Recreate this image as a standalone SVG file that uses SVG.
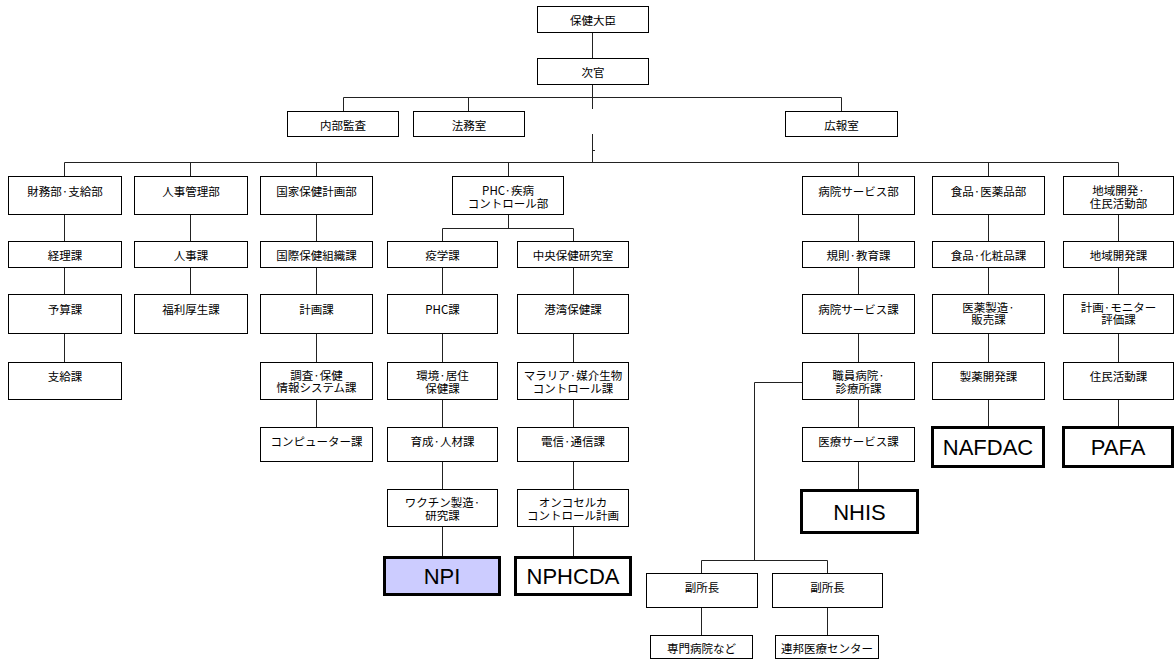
<svg xmlns="http://www.w3.org/2000/svg" width="1175" height="660" viewBox="0 0 1175 660">
<style>
.b{fill:#fff;stroke:#000;stroke-width:1}
.t{fill:#fff;stroke:#000;stroke-width:3}
.n{fill:#ccccff;stroke:#000;stroke-width:3}
.j{font-family:"Noto Sans CJK JP","Noto Sans CJK SC",sans-serif;font-size:11.5px;text-anchor:middle;dominant-baseline:central;fill:#000}
.e{font-family:"Liberation Sans",Arial,sans-serif;font-size:22px;text-anchor:middle;dominant-baseline:central;fill:#000}
.c{fill:none;stroke:#222;stroke-width:1}
</style>
<rect width="1175" height="660" fill="#fff"/>
<g id="connectors" class="c">
<path d="M592.5 32.5V58.5M592.5 84.5V109M343.5 97.5H841.5M343.5 97.5V111.5M468.5 97.5V111.5M841.5 97.5V111.5M592.5 134V162.5M592.5 150.5H595"/>
<path d="M64.5 162.5H1118.5M64.5 162.5V176.5M190.5 162.5V176.5M316.5 162.5V176.5M508.5 162.5V176.5M858.5 162.5V176.5M988.5 162.5V176.5M1118.5 162.5V176.5"/>
<path d="M64.5 214.5V241.5M64.5 267.5V294.5M64.5 333.5V362.5"/>
<path d="M190.5 214.5V241.5M190.5 267.5V294.5"/>
<path d="M316.5 214.5V241.5M316.5 267.5V294.5M316.5 333.5V362.5M316.5 399.5V427.5"/>
<path d="M508.5 214.5V228.5M442.5 228.5H573.5M442.5 228.5V241.5M573.5 228.5V241.5"/>
<path d="M442.5 267.5V294.5M442.5 333.5V362.5M442.5 399.5V427.5M442.5 461.5V489.5M442.5 526.5V557.5"/>
<path d="M573.5 267.5V294.5M573.5 333.5V362.5M573.5 399.5V427.5M573.5 461.5V489.5M573.5 526.5V557.5"/>
<path d="M858.5 214.5V241.5M858.5 267.5V294.5M858.5 333.5V362.5M858.5 399.5V427.5M858.5 461.5V490.5"/>
<path d="M802.5 382.5H754.5V560.5M701.5 560.5H827.5M701.5 560.5V573.5M827.5 560.5V573.5M701.5 607.5V635.5M827.5 607.5V635.5"/>
<path d="M988.5 214.5V241.5M988.5 267.5V294.5M988.5 333.5V362.5M988.5 399.5V427.5"/>
<path d="M1118.5 214.5V241.5M1118.5 267.5V294.5M1118.5 333.5V362.5M1118.5 399.5V427.5"/>
</g>
<g id="minister"><rect class="b" x="537.5" y="6.5" width="111" height="26"/><text class="j" x="593" y="20">保健大臣</text></g>
<g id="vice"><rect class="b" x="537.5" y="58.5" width="111" height="26"/><text class="j" x="593" y="72">次官</text></g>
<g id="audit"><rect class="b" x="287.5" y="111.5" width="111" height="25"/><text class="j" x="343" y="124.5">内部監査</text></g>
<g id="legal"><rect class="b" x="413.5" y="111.5" width="111" height="25"/><text class="j" x="469" y="124.5">法務室</text></g>
<g id="pr"><rect class="b" x="785.5" y="111.5" width="112" height="25"/><text class="j" x="841.5" y="124.5">広報室</text></g>

<g id="finance"><rect class="b" x="8.5" y="176.5" width="113" height="38"/><text class="j" x="65" y="190.5">財務部·支給部</text></g>
<g id="accounts"><rect class="b" x="8.5" y="241.5" width="113" height="26"/><text class="j" x="65" y="255">経理課</text></g>
<g id="budget"><rect class="b" x="8.5" y="294.5" width="113" height="39"/><text class="j" x="65" y="308.5">予算課</text></g>
<g id="payment"><rect class="b" x="8.5" y="362.5" width="113" height="37"/><text class="j" x="65" y="376">支給課</text></g>

<g id="hr"><rect class="b" x="134.5" y="176.5" width="113" height="38"/><text class="j" x="191" y="190.5">人事管理部</text></g>
<g id="personnel"><rect class="b" x="134.5" y="241.5" width="113" height="26"/><text class="j" x="191" y="255">人事課</text></g>
<g id="welfare"><rect class="b" x="134.5" y="294.5" width="113" height="39"/><text class="j" x="191" y="308.5">福利厚生課</text></g>

<g id="planning-dept"><rect class="b" x="260.5" y="176.5" width="112" height="38"/><text class="j" x="316.5" y="190.5">国家保健計画部</text></g>
<g id="intl"><rect class="b" x="260.5" y="241.5" width="112" height="26"/><text class="j" x="316.5" y="255">国際保健組織課</text></g>
<g id="plan"><rect class="b" x="260.5" y="294.5" width="112" height="39"/><text class="j" x="316.5" y="308.5">計画課</text></g>
<g id="survey"><rect class="b" x="260.5" y="362.5" width="112" height="37"/><text class="j" x="316.5" y="374.5">調査·保健<tspan x="316.5" dy="12.5">情報システム課</tspan></text></g>
<g id="computer"><rect class="b" x="260.5" y="427.5" width="112" height="34"/><text class="j" x="316.5" y="440.5">コンピューター課</text></g>

<g id="phc-dept"><rect class="b" x="452.5" y="176.5" width="111" height="38"/><text class="j" x="508" y="190">PHC·疾病<tspan x="508" dy="12.5">コントロール部</tspan></text></g>
<g id="epi"><rect class="b" x="387.5" y="241.5" width="110" height="26"/><text class="j" x="442.5" y="255">疫学課</text></g>
<g id="phc"><rect class="b" x="387.5" y="294.5" width="110" height="39"/><text class="j" x="442.5" y="308.5">PHC課</text></g>
<g id="env"><rect class="b" x="387.5" y="362.5" width="110" height="37"/><text class="j" x="442.5" y="375">環境·居住<tspan x="442.5" dy="12.5">保健課</tspan></text></g>
<g id="training"><rect class="b" x="387.5" y="427.5" width="110" height="34"/><text class="j" x="442.5" y="440.5">育成·人材課</text></g>
<g id="vaccine"><rect class="b" x="387.5" y="489.5" width="110" height="37"/><text class="j" x="442.5" y="502">ワクチン製造·<tspan x="442.5" dy="12.5">研究課</tspan></text></g>
<g id="npi"><rect class="n" x="384.5" y="557.5" width="115" height="37"/><text class="e" x="442" y="576">NPI</text></g>

<g id="lab"><rect class="b" x="517.5" y="241.5" width="111" height="26"/><text class="j" x="573" y="255">中央保健研究室</text></g>
<g id="port"><rect class="b" x="517.5" y="294.5" width="111" height="39"/><text class="j" x="573" y="308.5">港湾保健課</text></g>
<g id="malaria"><rect class="b" x="517.5" y="362.5" width="111" height="37"/><text class="j" x="573" y="375">マラリア·媒介生物<tspan x="573" dy="12.5">コントロール課</tspan></text></g>
<g id="telecom"><rect class="b" x="517.5" y="427.5" width="111" height="34"/><text class="j" x="573" y="440.5">電信·通信課</text></g>
<g id="oncho"><rect class="b" x="517.5" y="489.5" width="111" height="37"/><text class="j" x="573" y="502">オンコセルカ<tspan x="573" dy="12.5">コントロール計画</tspan></text></g>
<g id="nphcda"><rect class="t" x="515.5" y="557.5" width="115" height="37"/><text class="e" x="573" y="576">NPHCDA</text></g>

<g id="hosp-dept"><rect class="b" x="802.5" y="176.5" width="112" height="38"/><text class="j" x="858.5" y="190.5">病院サービス部</text></g>
<g id="rules"><rect class="b" x="802.5" y="241.5" width="112" height="26"/><text class="j" x="858.5" y="255">規則·教育課</text></g>
<g id="hosp"><rect class="b" x="802.5" y="294.5" width="112" height="39"/><text class="j" x="858.5" y="308.5">病院サービス課</text></g>
<g id="staff"><rect class="b" x="802.5" y="362.5" width="112" height="37"/><text class="j" x="858.5" y="375">職員病院·<tspan x="858.5" dy="12.5">診療所課</tspan></text></g>
<g id="medical"><rect class="b" x="802.5" y="427.5" width="112" height="34"/><text class="j" x="858.5" y="440.5">医療サービス課</text></g>
<g id="nhis"><rect class="t" x="801.5" y="490.5" width="116" height="42"/><text class="e" x="859.5" y="512">NHIS</text></g>
<g id="deputy1"><rect class="b" x="646.5" y="573.5" width="111" height="34"/><text class="j" x="702" y="587">副所長</text></g>
<g id="deputy2"><rect class="b" x="772.5" y="573.5" width="110" height="34"/><text class="j" x="827.5" y="587">副所長</text></g>
<g id="specialist"><rect class="b" x="650.5" y="635.5" width="102" height="23"/><text class="j" x="701.5" y="647.5">専門病院など</text></g>
<g id="fmc"><rect class="b" x="775.5" y="635.5" width="103" height="23"/><text class="j" x="827" y="647.5">連邦医療センター</text></g>

<g id="food-dept"><rect class="b" x="932.5" y="176.5" width="112" height="38"/><text class="j" x="988.5" y="190.5">食品·医薬品部</text></g>
<g id="cosmetic"><rect class="b" x="932.5" y="241.5" width="112" height="26"/><text class="j" x="988.5" y="255">食品·化粧品課</text></g>
<g id="pharma"><rect class="b" x="932.5" y="294.5" width="112" height="39"/><text class="j" x="988.5" y="306.5">医薬製造·<tspan x="988.5" dy="12.5">販売課</tspan></text></g>
<g id="drugdev"><rect class="b" x="932.5" y="362.5" width="112" height="37"/><text class="j" x="988.5" y="376">製薬開発課</text></g>
<g id="nafdac"><rect class="t" x="932.5" y="427.5" width="111" height="39"/><text class="e" x="988" y="447">NAFDAC</text></g>

<g id="region-dept"><rect class="b" x="1063.5" y="176.5" width="110" height="38"/><text class="j" x="1118.5" y="190">地域開発·<tspan x="1118.5" dy="12.5">住民活動部</tspan></text></g>
<g id="regional"><rect class="b" x="1063.5" y="241.5" width="110" height="26"/><text class="j" x="1118.5" y="255">地域開発課</text></g>
<g id="monitor"><rect class="b" x="1063.5" y="294.5" width="110" height="39"/><text class="j" x="1118.5" y="306.5">計画·モニター<tspan x="1118.5" dy="12.5">評価課</tspan></text></g>
<g id="community"><rect class="b" x="1063.5" y="362.5" width="110" height="37"/><text class="j" x="1118.5" y="376">住民活動課</text></g>
<g id="pafa"><rect class="t" x="1063.5" y="427.5" width="109" height="39"/><text class="e" x="1118" y="447">PAFA</text></g>
</svg>
